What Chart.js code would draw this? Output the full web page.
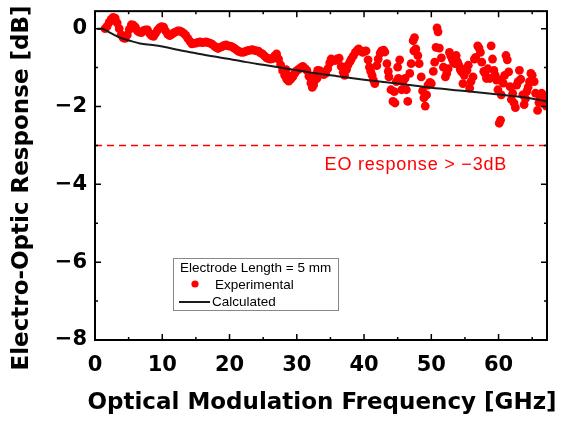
<!DOCTYPE html>
<html>
<head>
<meta charset="utf-8">
<script src="https://cdn.jsdelivr.net/npm/chart.js@4.4.0/dist/chart.umd.min.js"></script>
<style>
  html, body { margin: 0; padding: 0; background: #fff; }
</style>
</head>
<body>
<canvas id="eoChart" width="569" height="423"></canvas>
<script>
// measured EO response (dB) vs modulation frequency (GHz)
const expFreq = [
  1.5, 1.8, 2.1, 2.4, 2.7, 3.0, 3.3, 3.6, 3.9, 4.2, 4.5, 4.8, 5.1, 5.4, 5.7, 6.0, 6.3, 6.6, 6.9, 7.2,
  7.5, 7.8, 8.1, 8.4, 8.7, 9.0, 9.3, 9.6, 9.9, 10.2, 10.5, 10.8, 11.1, 11.4, 11.7, 12.0, 12.3, 12.6, 12.9, 13.2,
  13.5, 13.8, 14.1, 14.4, 14.7, 15.0, 15.3, 15.6, 15.9, 16.2, 16.5, 16.8, 17.1, 17.4, 17.7, 18.0, 18.3, 18.6, 18.9, 19.2,
  19.5, 19.8, 20.1, 20.4, 20.7, 21.0, 21.3, 21.6, 21.9, 22.2, 22.5, 22.8, 23.1, 23.4, 23.7, 24.0, 24.3, 24.6, 24.9, 25.2,
  25.5, 25.8, 26.1, 26.4, 26.7, 27.0, 27.3, 27.6, 27.9, 28.2, 28.5, 28.8, 29.1, 29.4, 29.7, 30.0, 30.3, 30.6, 30.9, 31.2,
  31.5, 31.8, 32.1, 32.3, 32.5, 32.7, 32.9, 33.1, 33.4, 33.7, 34.0, 34.3, 34.6, 34.9, 35.1, 35.4, 35.7, 36.0, 36.3, 36.6,
  36.9, 37.1, 37.4, 37.6, 37.9, 38.1, 38.4, 38.7, 39.0, 39.2, 39.5, 39.8, 40.1, 40.3, 40.6, 40.8, 41.0, 41.2, 41.4, 41.6,
  41.9, 42.1, 42.4, 42.6, 42.9, 43.1, 43.4, 43.6, 43.7, 44.0, 44.3, 44.5, 44.6, 44.8, 45.0, 45.1, 45.3,
  45.6, 45.8, 46.1, 46.3, 46.5, 46.8, 47.0, 47.3, 47.4, 47.5, 47.7, 48.0, 48.2, 48.5, 48.7, 48.9, 49.1, 49.3, 49.5, 49.8,
  50.0, 50.3, 50.5, 50.7, 50.85, 51.0, 51.2, 51.5, 51.8, 52.1, 52.3, 52.5, 52.7, 52.9, 53.1, 53.3, 53.5, 53.7, 53.9, 54.1,
  54.3, 54.5, 54.7, 54.9, 55.1, 55.3, 55.5, 55.7, 55.9, 56.2, 56.4, 56.6, 56.9, 57.1, 57.3, 57.5, 57.8, 58.0, 58.2, 58.4,
  58.7, 58.9, 59.1, 59.3, 59.5, 59.7, 59.9, 60.1, 60.2, 60.3, 60.4, 60.7, 60.9, 61.1, 61.3, 61.5, 61.7, 61.9, 62.1, 62.3,
  62.5, 62.7, 62.9, 63.1, 63.3, 63.6, 63.8, 64.0, 64.2, 64.4, 64.6, 64.8, 65.0, 65.3, 65.5, 65.8, 66.0, 66.2, 66.4, 66.6,
  66.8, 67.0, 67.1,
  28.4, 29.0, 32.0, 33.0
];
const expResp = [
  0.00, 0.06, 0.16, 0.24, 0.29, 0.27, 0.15, 0.00, -0.16, -0.24, -0.25, -0.16, -0.02, 0.10, 0.09, 0.04, -0.06, -0.09, -0.10, -0.05,
  -0.03, -0.03, -0.12, -0.18, -0.20, -0.12, -0.04, 0.02, 0.05, 0.04, -0.06, -0.14, -0.18, -0.15, -0.11, -0.08, -0.06, -0.06, -0.08, -0.12,
  -0.17, -0.25, -0.32, -0.39, -0.38, -0.37, -0.35, -0.34, -0.36, -0.35, -0.34, -0.36, -0.37, -0.40, -0.44, -0.48, -0.51, -0.48, -0.46, -0.43,
  -0.42, -0.44, -0.45, -0.47, -0.50, -0.54, -0.58, -0.60, -0.61, -0.60, -0.58, -0.56, -0.55, -0.54, -0.56, -0.57, -0.58, -0.62, -0.65, -0.70,
  -0.75, -0.77, -0.78, -0.77, -0.70, -0.65, -0.78, -0.93, -1.08, -1.20, -1.30, -1.35, -1.30, -1.24, -1.15, -1.08, -1.04, -1.00, -0.97, -1.02,
  -1.07, -1.22, -1.40, -1.51, -1.45, -1.32, -1.18, -1.07, -1.08, -1.12, -1.18, -1.14, -1.03, -0.88, -0.78, -0.80, -0.82, -0.78, -0.76, -0.97,
  -1.12, -1.20, -1.05, -0.94, -0.85, -0.78, -0.70, -0.61, -0.55, -0.52, -0.57, -0.61, -0.58, -0.57, -0.80, -0.99, -1.10, -1.20, -1.32, -1.41,
  -0.95, -0.78, -0.63, -0.57, -0.55, -0.60, -0.90, -1.10, -1.24, -1.57, -1.87, -1.62, -1.91, -1.36, -0.99, -1.28, -0.80,
  -1.57, -1.36, -1.28, -1.57, -1.87, -1.15, -0.90, -0.31, -0.57, -0.23, -0.52, -0.69, -0.90, -1.24, -1.60, -1.78, -1.99, -1.70, -1.45, -1.38,
  -1.41, -1.10, -0.86, -0.48, 0.02, -0.08, -0.50, -0.75, -0.99, -1.24, -1.15, -1.03, -0.61, -0.70, -0.78, -0.86, -0.90, -0.69, -0.85, -0.94,
  -1.05, -1.11, -1.41, -1.20, -1.03, -1.07, -0.94, -1.53, -1.36, -1.24, -0.78, -0.74, -0.44, -0.50, -0.61, -0.86, -1.10, -1.15, -1.28, -1.03,
  -1.28, -0.44, -0.78, -1.07, -1.20, -1.32, -1.57, -2.43, -1.32, -2.35, -1.70, -1.40, -1.20, -0.69, -0.80, -1.11, -1.49, -1.82, -1.66, -1.91,
  -2.03, -1.45, -1.36, -1.07, -1.30, -1.70, -1.95, -1.80, -1.61, -1.50, -1.36, -1.15, -1.20, -1.36, -1.66, -2.10, -1.90, -1.78, -1.66, -1.70,
  -1.91, -1.87, -1.99,
  -1.05, -1.22, -1.25, -1.28
];

// calculated response
const calcFreq = [0.3, 1.0, 1.5, 2.2, 3.0, 3.7, 5.2, 6.7, 8.5, 10, 12.5, 15, 17.5, 20, 22.5, 25, 27.5, 30, 33.4, 36, 40, 45, 50, 55, 60, 64, 67.2];
const calcResp = [0, 0, -0.03, -0.10, -0.17, -0.23, -0.31, -0.38, -0.42, -0.46, -0.55, -0.63, -0.71, -0.78, -0.86, -0.93, -1.00, -1.07, -1.16, -1.22, -1.31, -1.41, -1.52, -1.60, -1.69, -1.77, -1.87];

// -3 dB reference
const limitFreq = [0, 67.2];
const limitResp = [-3, -3];

const xTicks = [0, 10, 20, 30, 40, 50, 60];
const xMinorTicks = [5, 15, 25, 35, 45, 55, 65];
const yTicks = [-8, -6, -4, -2, 0];
const yMinorTicks = [-7, -5, -3, -1];

const xMin = 0, xMax = 67.2, yMin = -8, yMax = 0.45;

const toPoints = (xs, ys) => xs.map((x, i) => ({ x: x, y: ys[i] }));

const tickFont = { family: "'DejaVu Sans', sans-serif", weight: "bold", size: 21, lineHeight: 0.3 };

// frame, inward ticks, legend box, note and axis titles
const framePlugin = {
  id: "frame",
  afterDraw(chart) {
    const ctx = chart.ctx;
    const a = chart.chartArea;
    const xs = chart.scales.x, ys = chart.scales.y;
    ctx.save();

    ctx.strokeStyle = "#000";
    ctx.lineWidth = 1.5;
    ctx.beginPath();
    const tick = (x1, y1, x2, y2) => { ctx.moveTo(x1, y1); ctx.lineTo(x2, y2); };
    xTicks.forEach(v => { const p = xs.getPixelForValue(v); tick(p, a.bottom, p, a.bottom - 6); tick(p, a.top, p, a.top + 6); });
    xMinorTicks.forEach(v => { const p = xs.getPixelForValue(v); tick(p, a.bottom, p, a.bottom - 3); tick(p, a.top, p, a.top + 3); });
    yTicks.forEach(v => { const p = ys.getPixelForValue(v); tick(a.left, p, a.left + 6, p); tick(a.right, p, a.right - 6, p); });
    yMinorTicks.forEach(v => { const p = ys.getPixelForValue(v); tick(a.left, p, a.left + 3, p); tick(a.right, p, a.right - 3, p); });
    ctx.stroke();

    ctx.lineWidth = 2;
    ctx.strokeRect(a.left, a.top, a.right - a.left, a.bottom - a.top);

    // note under the -3 dB line
    ctx.fillStyle = "#ff0000";
    ctx.font = "18px 'Liberation Sans', Arial, sans-serif";
    ctx.textAlign = "center";
    ctx.textBaseline = "middle";
    if ("letterSpacing" in ctx) ctx.letterSpacing = "0.8px";
    ctx.fillText("EO response > \u22123dB", xs.getPixelForValue(47.7), ys.getPixelForValue(-3.5));
    if ("letterSpacing" in ctx) ctx.letterSpacing = "0px";

    // legend
    ctx.fillStyle = "#fff";
    ctx.fillRect(173, 258, 165, 52);
    ctx.strokeStyle = "#888";
    ctx.lineWidth = 1;
    ctx.strokeRect(173.5, 258.5, 165, 52);
    ctx.fillStyle = "#000";
    ctx.font = "13.5px 'Liberation Sans', Arial, sans-serif";
    ctx.textAlign = "left";
    ctx.fillText("Electrode Length = 5 mm", 180, 268);
    ctx.fillText("Experimental", 215, 285);
    ctx.fillText("Calculated", 212, 302);
    ctx.fillStyle = "#ff0000";
    ctx.beginPath();
    ctx.arc(195, 284, 3.6, 0, Math.PI * 2);
    ctx.fill();
    ctx.strokeStyle = "#1a1a1a";
    ctx.lineWidth = 2;
    ctx.beginPath();
    ctx.moveTo(179, 302);
    ctx.lineTo(210, 302);
    ctx.stroke();

    // axis titles
    ctx.fillStyle = "#000";
    ctx.textAlign = "center";
    ctx.font = "bold 23px 'DejaVu Sans', sans-serif";
    ctx.fillText("Optical Modulation Frequency [GHz]", 322, 403);
    ctx.translate(22, 188);
    ctx.rotate(-Math.PI / 2);
    ctx.fillText("Electro-Optic Response [dB]", 0, 0);
    ctx.restore();
  }
};

new Chart(document.getElementById("eoChart"), {
  type: "scatter",
  data: {
    datasets: [
      {
        label: "Calculated",
        data: toPoints(calcFreq, calcResp),
        showLine: true,
        borderColor: "#1a1a1a",
        borderWidth: 2,
        pointRadius: 0,
        cubicInterpolationMode: "monotone",
        order: 0
      },
      {
        label: "Experimental",
        data: toPoints(expFreq, expResp),
        backgroundColor: "#ff0000",
        borderWidth: 0,
        pointRadius: 4.4,
        order: 1
      },
      {
        label: "-3 dB",
        data: toPoints(limitFreq, limitResp),
        showLine: true,
        borderColor: "#ff0000",
        borderWidth: 1.5,
        borderDash: [7, 5],
        pointRadius: 0,
        order: 2
      }
    ]
  },
  options: {
    responsive: false,
    animation: false,
    devicePixelRatio: 1,
    layout: { padding: { left: 0, right: 22, top: 4, bottom: 0 } },
    plugins: {
      legend: { display: false },
      tooltip: { enabled: false }
    },
    scales: {
      x: {
        type: "linear",
        min: xMin,
        max: xMax,
        grid: { display: false, drawTicks: false },
        border: { display: false },
        afterBuildTicks: s => { s.ticks = xTicks.map(v => ({ value: v })); },
        afterFit: s => { s.height = 83; },
        ticks: { color: "#000", font: tickFont, padding: 22, maxRotation: 0, autoSkip: false }
      },
      y: {
        type: "linear",
        min: yMin,
        max: yMax,
        grid: { display: false, drawTicks: false },
        border: { display: false },
        afterBuildTicks: s => { s.ticks = yTicks.map(v => ({ value: v })); },
        afterFit: s => { s.width = 95; },
        ticks: {
          color: "#000",
          font: tickFont,
          padding: 8,
          callback: v => String(v).replace("-", "\u2212")
        }
      }
    }
  },
  plugins: [framePlugin]
});
</script>
</body>
</html>
